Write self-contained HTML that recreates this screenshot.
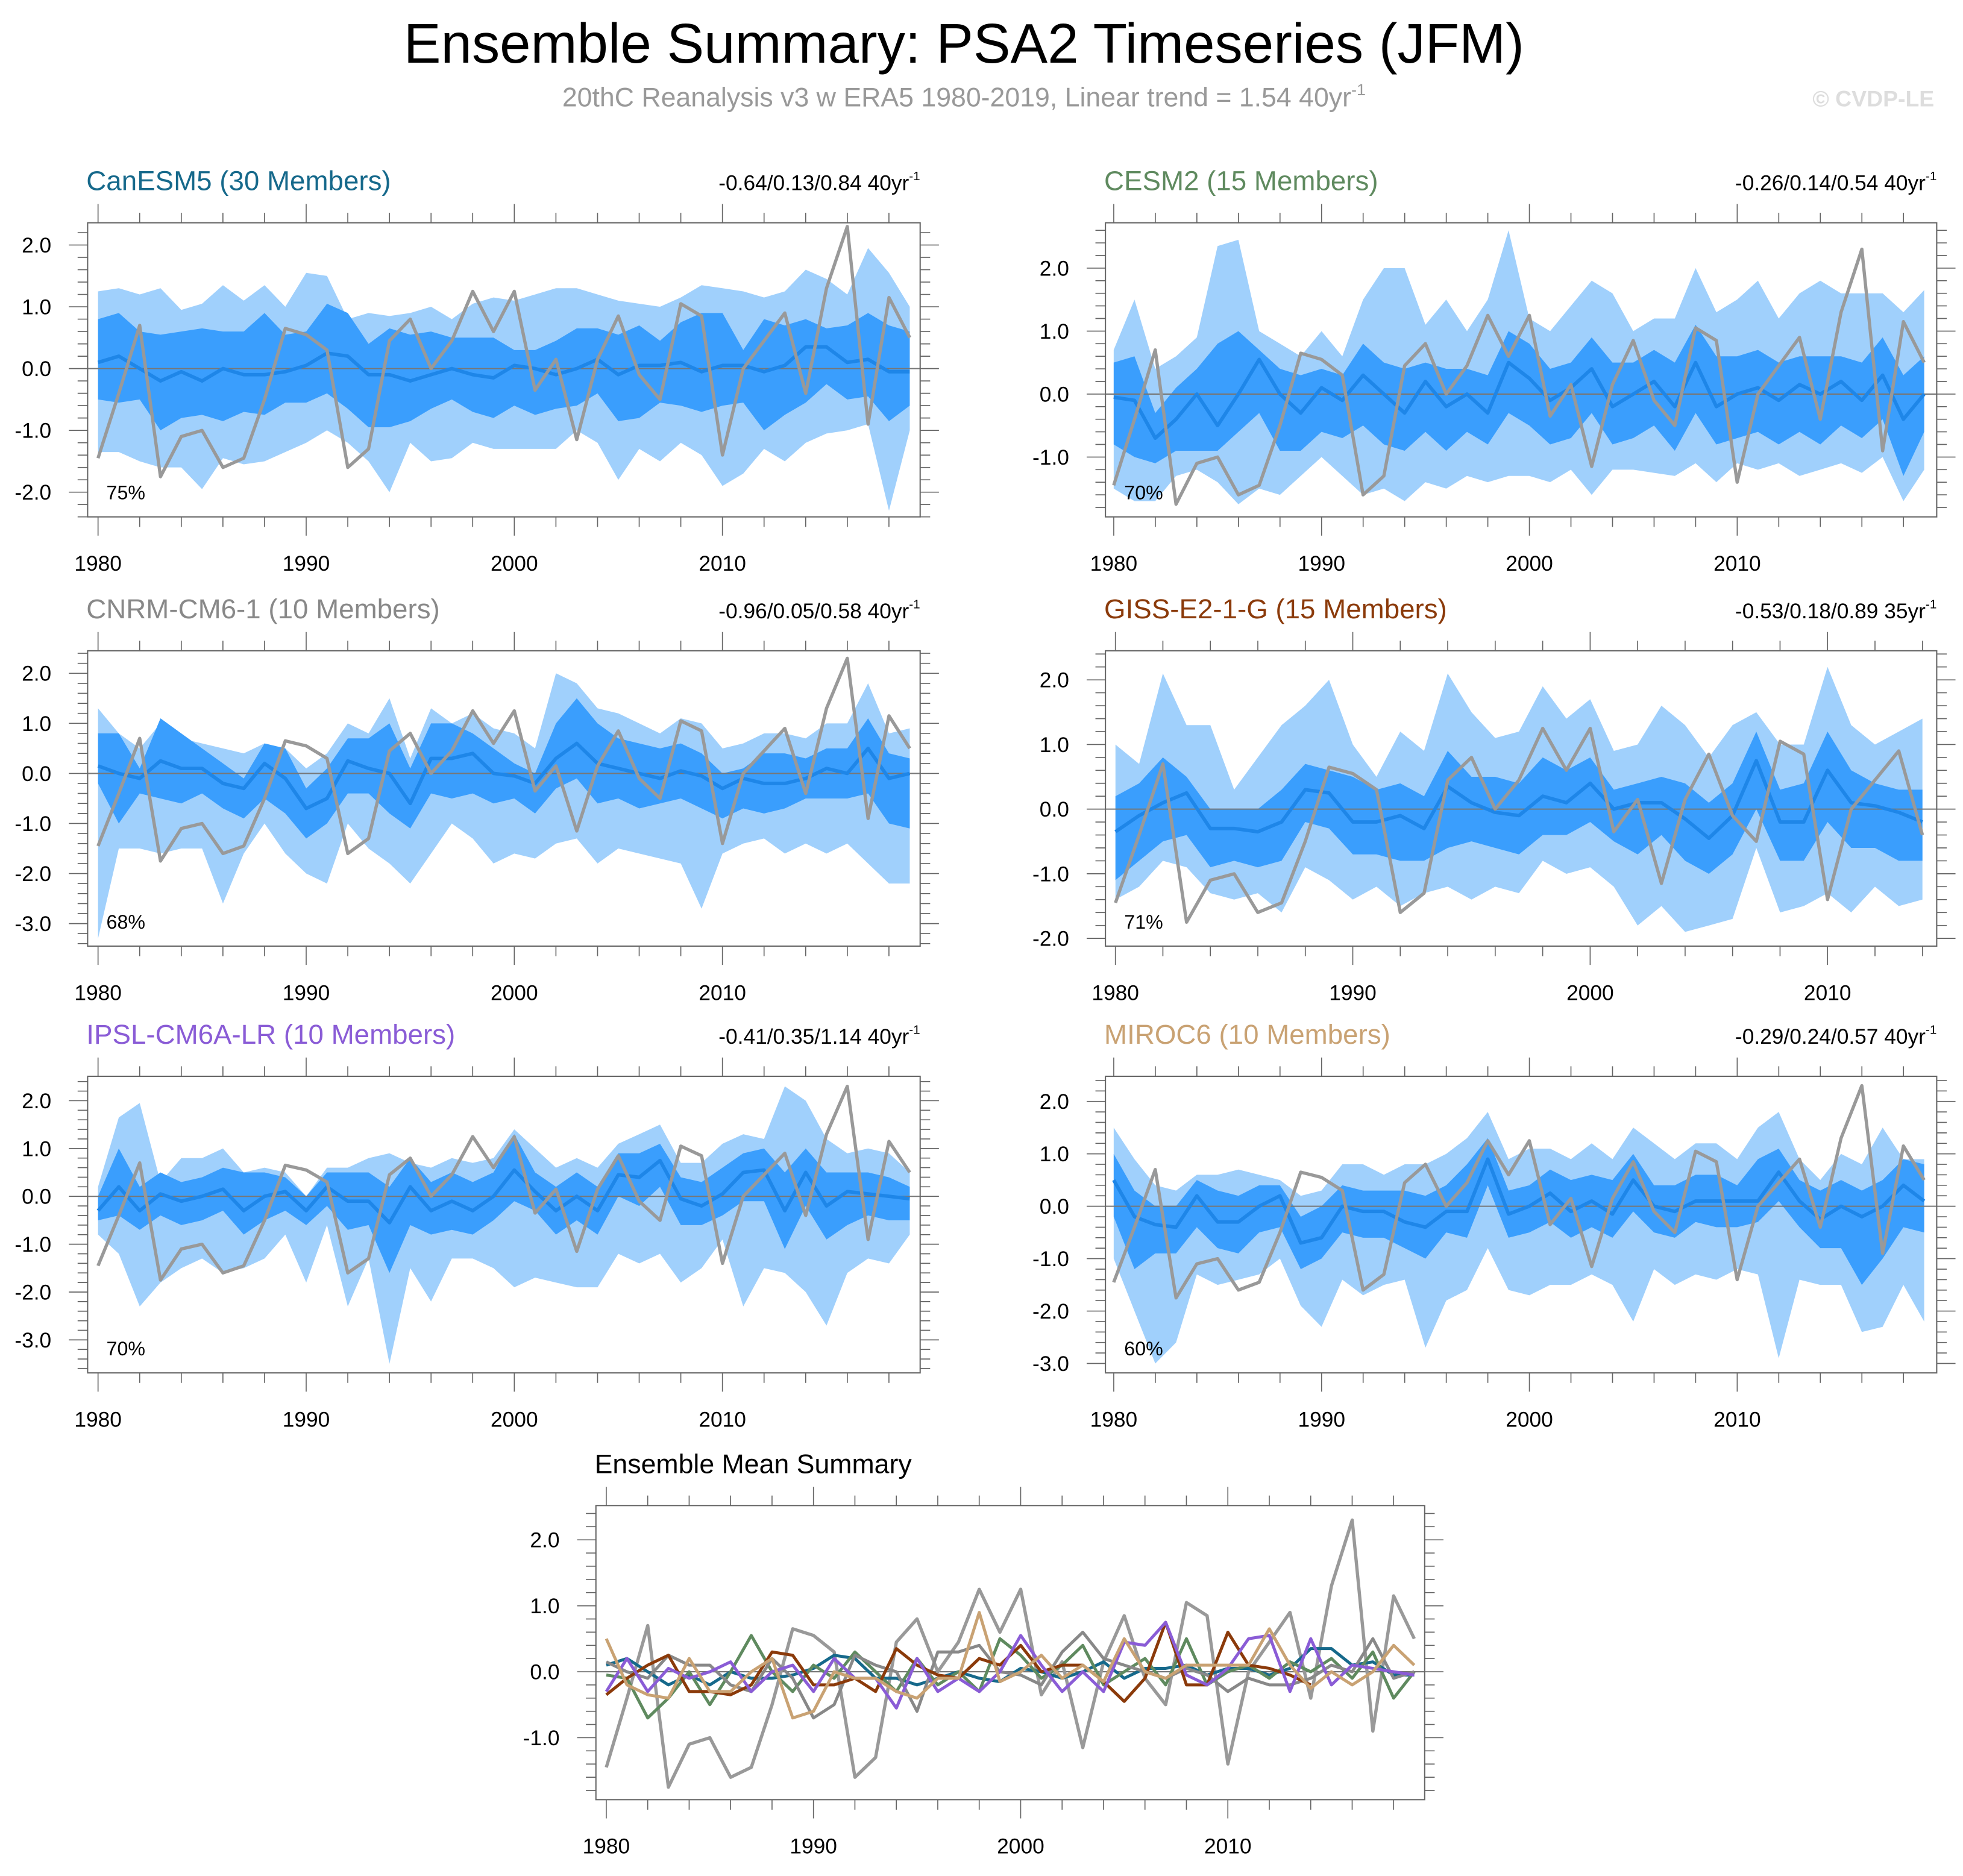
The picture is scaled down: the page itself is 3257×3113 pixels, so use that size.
<!DOCTYPE html>
<html><head><meta charset="utf-8"><title>Ensemble Summary: PSA2 Timeseries (JFM)</title>
<style>html,body{margin:0;padding:0;background:#fff;}svg{display:block;}text{font-family:"Liberation Sans",sans-serif;}</style>
</head><body>
<svg id="chart" xmlns="http://www.w3.org/2000/svg" width="3257" height="3113" viewBox="0 0 1568 1499" preserveAspectRatio="none">
<text x="770" y="50" font-size="44.5" text-anchor="middle" fill="#000">Ensemble Summary: PSA2 Timeseries (JFM)</text>
<text x="770" y="85" font-size="21.5" text-anchor="middle" fill="#999">20thC Reanalysis v3 w ERA5 1980-2019, Linear trend = 1.54 40yr<tspan font-size="13" dy="-9">-1</tspan></text>
<text x="1545" y="85" font-size="18" font-weight="bold" text-anchor="end" fill="#ddd">© CVDP-LE</text>
<g id="panels"></g>
</svg>
<script>
const years = [1980,1981,1982,1983,1984,1985,1986,1987,1988,1989,1990,1991,1992,1993,1994,1995,1996,1997,1998,1999,2000,2001,2002,2003,2004,2005,2006,2007,2008,2009,2010,2011,2012,2013,2014,2015,2016,2017,2018,2019];
const obs = [-1.45,-0.4,0.7,-1.75,-1.1,-1.0,-1.6,-1.45,-0.5,0.65,0.55,0.3,-1.6,-1.3,0.45,0.8,0.0,0.45,1.25,0.6,1.25,-0.35,0.15,-1.15,0.15,0.85,-0.1,-0.5,1.05,0.85,-1.4,0.0,0.45,0.9,-0.4,1.3,2.3,-0.9,1.15,0.5];

const canMean = [0.1,0.2,0.0,-0.2,-0.05,-0.2,0.0,-0.1,-0.1,-0.05,0.05,0.25,0.2,-0.1,-0.1,-0.2,-0.1,0.0,-0.1,-0.15,0.05,0.0,-0.1,0.0,0.15,-0.1,0.05,0.05,0.1,-0.05,0.05,0.05,-0.05,0.05,0.35,0.35,0.1,0.15,-0.05,-0.05];
const canOhi = [1.25,1.3,1.2,1.3,0.95,1.05,1.35,1.1,1.35,1.0,1.55,1.5,0.8,0.9,0.85,0.9,1.0,0.8,1.05,1.15,1.1,1.2,1.3,1.3,1.2,1.1,1.05,1.0,1.15,1.35,1.3,1.25,1.15,1.25,1.6,1.45,1.2,1.95,1.55,1.0];
const canOlo = [-1.35,-1.35,-1.5,-1.6,-1.6,-1.95,-1.45,-1.55,-1.5,-1.35,-1.2,-1.0,-1.2,-1.5,-2.0,-1.2,-1.5,-1.45,-1.2,-1.3,-1.3,-1.3,-1.3,-1.0,-1.2,-1.8,-1.3,-1.5,-1.2,-1.4,-1.9,-1.7,-1.3,-1.5,-1.2,-1.05,-1.0,-0.9,-2.3,-1.0];
const canIhi = [0.8,0.9,0.6,0.55,0.6,0.65,0.6,0.6,0.9,0.55,0.6,1.05,0.9,0.4,0.65,0.55,0.6,0.5,0.5,0.5,0.3,0.3,0.45,0.65,0.65,0.55,0.7,0.45,0.75,0.9,0.9,0.3,0.8,0.7,0.8,0.65,0.7,0.9,0.7,0.6];
const canIlo = [-0.5,-0.55,-0.5,-1.0,-0.8,-0.75,-0.85,-0.7,-0.75,-0.55,-0.55,-0.4,-0.65,-0.95,-0.95,-0.85,-0.65,-0.5,-0.7,-0.8,-0.6,-0.75,-0.65,-0.6,-0.4,-0.85,-0.8,-0.55,-0.6,-0.7,-0.6,-0.55,-1.0,-0.75,-0.55,-0.25,-0.5,-0.45,-0.85,-0.6];

const cesMean = [-0.05,-0.1,-0.7,-0.4,0.0,-0.5,0.0,0.55,0.0,-0.3,0.1,-0.1,0.3,0.0,-0.3,0.2,-0.2,0.0,-0.3,0.5,0.25,-0.1,0.1,0.4,-0.2,0.0,0.2,-0.2,0.5,-0.2,0.0,0.1,-0.1,0.15,0.0,0.2,-0.1,0.3,-0.4,0.0];
const cesOhi = [0.7,1.5,0.4,0.6,0.9,2.35,2.45,1.0,0.8,0.6,1.0,0.6,1.5,2.0,2.0,1.1,1.5,1.0,1.5,2.6,1.2,1.0,1.4,1.8,1.6,1.0,1.2,1.2,2.0,1.3,1.5,1.8,1.2,1.6,1.8,1.6,1.6,1.6,1.3,1.65];
const cesOlo = [-1.5,-1.7,-1.7,-1.3,-1.2,-1.4,-1.75,-1.5,-1.6,-1.3,-1.0,-1.3,-1.6,-1.5,-1.7,-1.4,-1.5,-1.3,-1.4,-1.3,-1.3,-1.4,-1.2,-1.6,-1.2,-1.2,-1.25,-1.3,-1.1,-1.4,-1.1,-1.2,-1.1,-1.3,-1.2,-1.1,-1.25,-1.0,-1.7,-1.2];
const cesIhi = [0.5,0.6,-0.3,0.1,0.4,0.8,1.0,0.7,0.4,0.3,0.4,0.3,0.8,0.5,0.4,0.5,0.4,0.4,0.3,1.0,0.8,0.4,0.5,0.9,0.5,0.5,0.7,0.5,1.1,0.6,0.6,0.7,0.5,0.6,0.6,0.6,0.5,0.9,0.3,0.6];
const cesIlo = [-0.8,-1.0,-1.1,-0.9,-0.9,-0.9,-0.6,-0.3,-0.9,-0.9,-0.6,-0.7,-0.5,-0.8,-0.9,-0.6,-0.9,-0.6,-0.8,-0.3,-0.5,-0.8,-0.7,-0.3,-0.8,-0.7,-0.5,-0.9,-0.3,-0.8,-0.7,-0.6,-0.8,-0.6,-0.8,-0.5,-0.7,-0.4,-1.3,-0.6];

const cnrMean = [0.15,0.0,-0.1,0.25,0.1,0.1,-0.2,-0.3,0.2,-0.1,-0.7,-0.5,0.25,0.1,0.0,-0.6,0.3,0.3,0.4,0.0,-0.05,-0.2,0.3,0.6,0.2,0.1,0.0,-0.1,0.05,-0.05,-0.3,-0.1,-0.2,-0.2,-0.1,0.1,0.0,0.5,-0.1,0.0];
const cnrOhi = [1.3,0.8,0.5,1.0,0.7,0.6,0.5,0.4,0.6,0.5,0.1,0.4,1.0,0.8,1.5,0.3,1.3,1.0,1.2,0.9,0.8,0.5,2.0,1.8,1.3,1.2,1.0,0.8,1.1,1.0,0.5,0.6,0.8,0.8,0.7,1.0,1.0,1.8,0.8,0.9];
const cnrOlo = [-3.3,-1.5,-1.5,-1.6,-1.5,-1.5,-2.6,-1.6,-1.0,-1.6,-2.0,-2.2,-1.0,-1.5,-1.8,-2.2,-1.6,-1.0,-1.3,-1.8,-1.6,-1.7,-1.4,-1.3,-1.8,-1.5,-1.6,-1.7,-1.8,-2.7,-1.6,-1.4,-1.3,-1.6,-1.4,-1.6,-1.4,-1.8,-2.2,-2.2];
const cnrIhi = [0.8,0.8,0.1,1.1,0.8,0.5,0.2,-0.1,0.6,0.5,-0.3,0.1,0.7,0.7,1.0,0.1,1.0,1.0,0.8,0.5,0.2,0.0,1.0,1.5,1.0,0.7,0.6,0.5,0.6,0.4,0.0,0.1,0.4,0.4,0.3,0.5,0.5,1.1,0.4,0.3];
const cnrIlo = [-0.2,-1.0,-0.4,-0.5,-0.6,-0.4,-0.7,-0.9,-0.5,-0.8,-1.3,-1.0,-0.4,-0.4,-0.8,-1.1,-0.4,-0.5,-0.4,-0.6,-0.5,-0.8,-0.3,-0.1,-0.6,-0.5,-0.7,-0.6,-0.5,-0.7,-0.9,-0.7,-0.8,-0.7,-0.5,-0.5,-0.5,-0.4,-1.0,-1.1];

const gisMean = [-0.35,-0.1,0.1,0.25,-0.3,-0.3,-0.35,-0.2,0.3,0.25,-0.2,-0.2,-0.1,-0.3,0.35,0.1,-0.05,-0.1,0.2,0.1,0.4,0.0,0.1,0.1,-0.15,-0.45,-0.1,0.75,-0.2,-0.2,0.6,0.1,0.05,-0.05,-0.2];
const gisOhi = [1.0,0.7,2.1,1.3,1.3,0.3,0.8,1.3,1.6,2.0,1.0,0.5,1.2,0.9,2.1,1.5,1.1,1.2,1.9,1.4,1.7,0.9,1.0,1.6,1.3,0.8,1.3,1.5,1.0,1.0,2.2,1.3,1.0,1.2,1.4];
const gisOlo = [-1.4,-1.2,-0.8,-0.9,-1.3,-1.4,-1.3,-1.6,-0.9,-1.1,-1.4,-1.2,-1.5,-1.3,-1.2,-1.4,-1.2,-1.3,-0.8,-1.0,-0.9,-1.2,-1.8,-1.5,-1.9,-1.8,-1.7,-0.6,-1.6,-1.5,-1.3,-1.6,-1.2,-1.5,-1.4];
const gisIhi = [0.2,0.4,0.8,0.5,0.0,0.0,0.0,0.3,0.7,0.6,0.5,0.3,0.4,0.2,0.9,0.5,0.5,0.4,0.8,0.6,0.8,0.3,0.4,0.5,0.4,0.1,0.4,1.2,0.3,0.4,1.2,0.6,0.4,0.3,0.3];
const gisIlo = [-1.1,-0.8,-0.5,-0.4,-0.9,-0.8,-0.9,-0.8,-0.2,-0.3,-0.7,-0.7,-0.8,-0.8,-0.6,-0.5,-0.6,-0.7,-0.4,-0.4,-0.2,-0.5,-0.7,-0.4,-0.8,-1.0,-0.7,0.0,-0.8,-0.8,-0.2,-0.6,-0.6,-0.8,-0.8];

const ipsMean = [-0.3,0.2,-0.3,0.05,-0.1,0.0,0.15,-0.3,0.0,0.1,-0.3,0.2,-0.1,-0.1,-0.55,0.2,-0.3,-0.1,-0.3,0.0,0.55,0.1,-0.3,0.0,-0.3,0.45,0.4,0.75,-0.05,-0.2,0.05,0.5,0.55,-0.3,0.5,-0.2,0.1,0.05,0.0,-0.05];
const ipsOhi = [0.2,1.65,1.95,0.3,0.8,0.8,1.0,0.5,0.6,0.5,0.0,0.6,0.6,0.8,0.9,0.7,0.6,0.8,0.7,0.8,1.4,1.0,0.6,0.8,0.6,1.1,1.3,1.5,0.7,0.7,1.1,1.3,1.2,2.3,2.0,1.2,0.9,1.0,0.9,0.5];
const ipsOlo = [-0.8,-1.2,-2.3,-1.8,-1.5,-1.3,-1.6,-1.5,-1.3,-0.8,-1.8,-0.6,-2.3,-1.3,-3.5,-1.5,-2.2,-1.3,-1.3,-1.5,-1.9,-1.7,-1.8,-1.9,-1.9,-1.2,-1.4,-1.2,-1.8,-1.5,-0.9,-2.3,-1.5,-1.6,-2.0,-2.7,-1.6,-1.3,-1.4,-0.8];
const ipsIhi = [0.0,1.0,0.2,0.5,0.3,0.4,0.6,0.5,0.5,0.4,0.0,0.5,0.5,0.5,0.2,0.8,0.3,0.5,0.3,0.5,1.3,0.5,0.2,0.5,0.2,0.9,0.9,1.1,0.4,0.3,0.6,0.9,1.0,0.5,1.0,0.5,0.5,0.5,0.4,0.2];
const ipsIlo = [-0.5,-0.4,-0.7,-0.4,-0.6,-0.5,-0.3,-0.8,-0.5,-0.3,-0.6,-0.2,-0.7,-0.6,-1.6,-0.6,-0.8,-0.7,-0.8,-0.5,-0.1,-0.3,-0.8,-0.5,-0.8,0.0,-0.2,0.2,-0.6,-0.6,-0.4,-0.1,-0.1,-1.1,-0.2,-0.9,-0.6,-0.4,-0.5,-0.5];

const mirMean = [0.5,-0.2,-0.35,-0.4,0.2,-0.3,-0.3,0.0,0.2,-0.7,-0.6,0.0,-0.1,-0.1,-0.3,-0.4,-0.1,-0.1,0.9,-0.15,0.0,0.25,-0.1,0.1,-0.15,0.5,0.0,-0.1,0.1,0.1,0.1,0.1,0.65,0.1,-0.25,0.0,-0.2,0.0,0.4,0.1];
const mirOhi = [1.5,0.9,0.4,0.3,0.6,0.6,0.7,0.6,0.5,0.2,0.3,0.8,0.8,0.6,0.8,0.8,1.0,1.3,1.8,0.9,1.1,1.1,0.9,1.2,0.9,1.5,1.2,0.9,1.2,1.2,0.9,1.5,1.8,0.9,0.5,1.0,0.8,1.5,0.9,0.9];
const mirOlo = [-1.0,-2.0,-3.0,-2.6,-1.3,-1.5,-1.4,-1.3,-1.0,-1.9,-2.3,-1.4,-1.7,-1.5,-1.4,-2.7,-1.8,-1.6,-0.8,-1.6,-1.7,-1.5,-1.5,-1.3,-1.5,-2.2,-1.2,-1.5,-1.3,-1.4,-1.2,-1.3,-2.9,-1.4,-1.5,-1.5,-2.4,-2.3,-1.5,-2.2];
const mirIhi = [1.0,0.3,0.0,0.0,0.5,0.3,0.2,0.4,0.4,-0.2,0.0,0.4,0.3,0.3,0.3,0.2,0.4,0.8,1.3,0.3,0.4,0.7,0.5,0.6,0.5,1.0,0.4,0.4,0.6,0.6,0.4,0.9,1.1,0.5,0.3,0.5,0.3,0.5,0.9,0.8];
const mirIlo = [-0.2,-1.2,-0.9,-0.9,-0.4,-0.8,-0.9,-0.5,-0.4,-1.2,-1.0,-0.5,-0.6,-0.6,-0.8,-1.0,-0.5,-0.6,0.4,-0.6,-0.5,-0.3,-0.6,-0.4,-0.6,-0.1,-0.5,-0.6,-0.3,-0.4,-0.4,-0.3,0.1,-0.4,-0.8,-0.8,-1.5,-1.0,-0.4,-0.5];

const xTickLabels = [1980,1990,2000,2010];
const yTicksA = [2,1,0,-1,-2];
const yTicksB = [2,1,0,-1];
const yTicksC = [2,1,0,-1,-2,-3];

const NS = "http://www.w3.org/2000/svg";
const root = document.getElementById('panels');
function el(tag, attrs, parent){const e=document.createElementNS(NS,tag);for(const k in attrs)e.setAttribute(k,attrs[k]);(parent||root).appendChild(e);return e;}

const panels = [
 {key:'canesm5',title:'CanESM5 (30 Members)',color:'#16698b',trend:'-0.64/0.13/0.84 40yr',x0:70,x1:735,y0:178,y1:413,xmin:1979.5,xmax:2019.5,ymin:-2.4,ymax:2.36,yt:yTicksA,n:40,mean:canMean,ohi:canOhi,olo:canOlo,ihi:canIhi,ilo:canIlo,pct:'75%'},
 {key:'cesm2',title:'CESM2 (15 Members)',color:'#5f8a5f',trend:'-0.26/0.14/0.54 40yr',x0:883,x1:1547,y0:178,y1:413,xmin:1979.6,xmax:2019.6,ymin:-1.95,ymax:2.72,yt:yTicksB,n:40,mean:cesMean,ohi:cesOhi,olo:cesOlo,ihi:cesIhi,ilo:cesIlo,pct:'70%'},
 {key:'cnrm',title:'CNRM-CM6-1 (10 Members)',color:'#888888',trend:'-0.96/0.05/0.58 40yr',x0:70,x1:735,y0:520,y1:756,xmin:1979.5,xmax:2019.5,ymin:-3.45,ymax:2.45,yt:yTicksC,n:40,mean:cnrMean,ohi:cnrOhi,olo:cnrOlo,ihi:cnrIhi,ilo:cnrIlo,pct:'68%'},
 {key:'giss',title:'GISS-E2-1-G (15 Members)',color:'#8b3a0a',trend:'-0.53/0.18/0.89 35yr',x0:883,x1:1547,y0:520,y1:756,xmin:1979.58,xmax:2014.6,ymin:-2.12,ymax:2.45,yt:yTicksA,n:35,mean:gisMean,ohi:gisOhi,olo:gisOlo,ihi:gisIhi,ilo:gisIlo,pct:'71%'},
 {key:'ipsl',title:'IPSL-CM6A-LR (10 Members)',color:'#8a5cd6',trend:'-0.41/0.35/1.14 40yr',x0:70,x1:735,y0:860,y1:1097,xmin:1979.5,xmax:2019.5,ymin:-3.69,ymax:2.51,yt:yTicksC,n:40,mean:ipsMean,ohi:ipsOhi,olo:ipsOlo,ihi:ipsIhi,ilo:ipsIlo,pct:'70%'},
 {key:'miroc6',title:'MIROC6 (10 Members)',color:'#c9a273',trend:'-0.29/0.24/0.57 40yr',x0:883,x1:1547,y0:860,y1:1097,xmin:1979.6,xmax:2019.6,ymin:-3.18,ymax:2.48,yt:yTicksC,n:40,mean:mirMean,ohi:mirOhi,olo:mirOlo,ihi:mirIhi,ilo:mirIlo,pct:'60%'}
];

function axes(p, g){
 const xs = v=>p.x0+(v-p.xmin)/(p.xmax-p.xmin)*(p.x1-p.x0);
 const ys = v=>p.y1-(v-p.ymin)/(p.ymax-p.ymin)*(p.y1-p.y0);
 for(let yr=1980; yr<=p.xmax; yr+=2){
  const major = yr%10===0, L = major?15:8, x=xs(yr);
  el('line',{x1:x,x2:x,y1:p.y1,y2:p.y1+L,stroke:'#666','stroke-width':0.8},g);
  el('line',{x1:x,x2:x,y1:p.y0,y2:p.y0-L,stroke:'#666','stroke-width':0.8},g);
 }
 xTickLabels.forEach(v=>{ if(v<=p.xmax){
  const t=el('text',{x:xs(v),y:p.y1+43,'font-size':17,'text-anchor':'middle',fill:'#000'},g);
  
  
  t.textContent=v;}});
 const start=Math.ceil(p.ymin*5)/5;
 for(let k=Math.round(start*5); k/5<=p.ymax; k++){
  const v=k/5, major=(k%5===0), L=major?15:8, y=ys(v);
  el('line',{x1:p.x0,x2:p.x0-L,y1:y,y2:y,stroke:'#666','stroke-width':0.8},g);
  el('line',{x1:p.x1,x2:p.x1+L,y1:y,y2:y,stroke:'#666','stroke-width':0.8},g);
 }
 p.yt.forEach(v=>{
  const t=el('text',{x:p.x0-29,y:ys(v)+6,'font-size':17,'text-anchor':'end',fill:'#000'},g);
  
  
  t.textContent=v.toFixed(1);
 });
 return {xs,ys};
}

function band(hi, lo, xs, ys, n){
 let d='';
 for(let i=0;i<n;i++) d+=(i?'L':'M')+xs(years[i]).toFixed(1)+','+ys(hi[i]).toFixed(1);
 for(let i=n-1;i>=0;i--) d+='L'+xs(years[i]).toFixed(1)+','+ys(lo[i]).toFixed(1);
 return d+'Z';
}
function line(arr, xs, ys, n){
 let d='';
 for(let i=0;i<n;i++) d+=(i?'L':'M')+xs(years[i]).toFixed(1)+','+ys(arr[i]).toFixed(1);
 return d;
}

panels.forEach(p=>{
 const g=el('g',{});
 
 
 const cp=el('clipPath',{id:'clip-'+p.key},g);
 el('rect',{x:p.x0,y:p.y0,width:p.x1-p.x0,height:p.y1-p.y0},cp);
 const {xs,ys}=axes(p,g);
 const pg=el('g',{'clip-path':'url(#clip-'+p.key+')'},g);
 const o=el('path',{d:band(p.ohi,p.olo,xs,ys,p.n),fill:'#a0d0fc'},pg);
 
 
 const inn=el('path',{d:band(p.ihi,p.ilo,xs,ys,p.n),fill:'#3a9efd'},pg);
 
 
 el('line',{x1:p.x0,x2:p.x1,y1:ys(0),y2:ys(0),stroke:'#777','stroke-width':1},pg);
 const m=el('path',{d:line(p.mean,xs,ys,p.n),fill:'none',stroke:'#1e86e8','stroke-width':2.8,'stroke-linejoin':'round'},pg);
 
 
 const ob=el('path',{d:line(obs,xs,ys,p.n),fill:'none',stroke:'#999','stroke-width':2.6,'stroke-linejoin':'round'},pg);
 
 
 el('rect',{x:p.x0,y:p.y0,width:p.x1-p.x0,height:p.y1-p.y0,fill:'none',stroke:'#666','stroke-width':1},g);
 const t=el('text',{x:p.x0-1,y:p.y0-26,'font-size':22,fill:p.color},g);
 
 
 t.textContent=p.title;
 const tr=el('text',{x:p.x1,y:p.y0-26,'font-size':17,'text-anchor':'end',fill:'#000'},g);
 
 
 tr.textContent=p.trend;
 const sup=el('tspan',{'font-size':10,dy:-8},tr); sup.textContent='-1';
 const pc=el('text',{x:p.x0+15,y:p.y1-14,'font-size':15.5,fill:'#000'},g);
 
 
 pc.textContent=p.pct;
});

const bp={x0:476,x1:1138,y0:1203,y1:1438,xmin:1979.5,xmax:2019.5,ymin:-1.94,ymax:2.52,yt:yTicksB};
const bg=el('g',{});


const bcp=el('clipPath',{id:'clip-bottom'},bg);
el('rect',{x:bp.x0,y:bp.y0,width:bp.x1-bp.x0,height:bp.y1-bp.y0},bcp);
const B=axes(bp,bg);
const bpg=el('g',{'clip-path':'url(#clip-bottom)'},bg);
el('line',{x1:bp.x0,x2:bp.x1,y1:B.ys(0),y2:B.ys(0),stroke:'#777','stroke-width':1},bpg);
const bob=el('path',{d:line(obs,B.xs,B.ys,40),fill:'none',stroke:'#999','stroke-width':2.6,'stroke-linejoin':'round'},bpg);


panels.forEach(p=>{
 const l=el('path',{d:line(p.mean,B.xs,B.ys,p.n),fill:'none',stroke:p.color,'stroke-width':2.4,'stroke-linejoin':'round'},bpg);
 
 
});
el('rect',{x:bp.x0,y:bp.y0,width:bp.x1-bp.x0,height:bp.y1-bp.y0,fill:'none',stroke:'#666','stroke-width':1},bg);
const bt=el('text',{x:bp.x0-1,y:bp.y0-26,'font-size':21.5,fill:'#000'},bg);


bt.textContent='Ensemble Mean Summary';
</script>
</body></html>
